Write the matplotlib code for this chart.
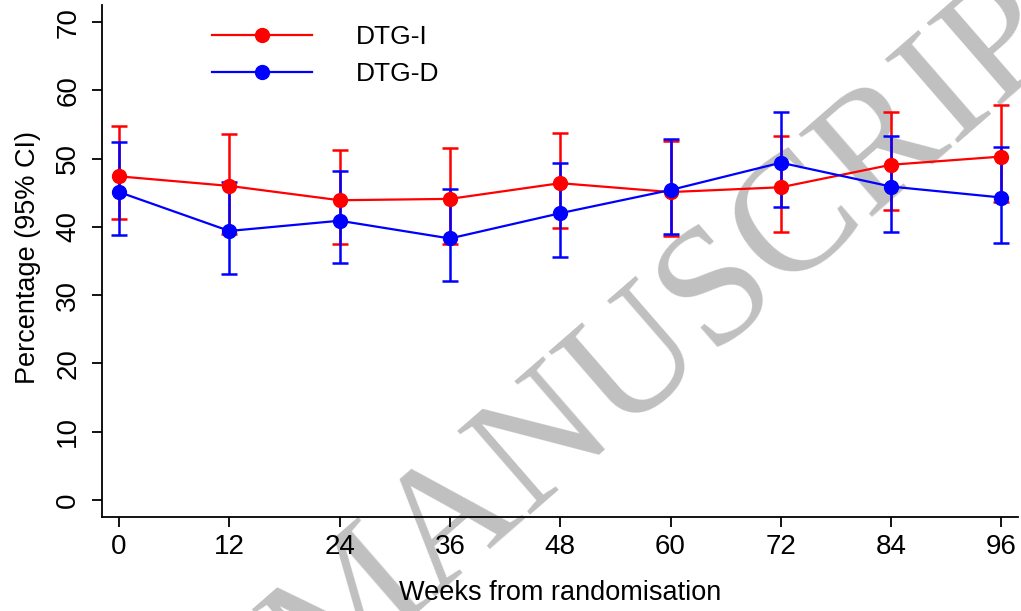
import numpy as np
import matplotlib
matplotlib.use("Agg")
import matplotlib.pyplot as plt

plt.rcParams['font.family'] = ['Liberation Sans', 'DejaVu Sans']

weeks = [0, 12, 24, 36, 48, 60, 72, 84, 96]

# DTG-I (red)
dtg_i = [47.4, 46.0, 43.9, 44.1, 46.4, 45.1, 45.8, 49.1, 50.3]
dtg_i_lo = [41.1, 39.0, 37.5, 37.5, 39.8, 38.7, 39.2, 42.5, 43.7]
dtg_i_hi = [54.8, 53.6, 51.3, 51.5, 53.8, 52.6, 53.3, 56.8, 57.8]

# DTG-D (blue)
dtg_d = [45.1, 39.4, 40.9, 38.3, 42.0, 45.4, 49.4, 45.9, 44.3]
dtg_d_lo = [38.8, 33.1, 34.7, 32.0, 35.6, 38.9, 42.9, 39.3, 37.6]
dtg_d_hi = [52.4, 46.6, 48.2, 45.5, 49.3, 52.8, 56.8, 53.3, 51.7]

W, H = 1021, 611
fig = plt.figure(figsize=(W / 100, H / 100), dpi=100)
ax = fig.add_axes([102 / W, 1 - 517 / H, 916 / W, 512 / H])

# watermark
ax.text(320 / W, -82 / H, "MANUSCRIPT", transform=fig.transFigure,
        rotation=41, rotation_mode='anchor', ha='left', va='baseline',
        fontsize=122, family='Liberation Serif', color='#c0c0c0',
        zorder=0.5, clip_on=False)

for y, lo, hi, col, lab in [(dtg_i, dtg_i_lo, dtg_i_hi, 'red', 'DTG-I'),
                            (dtg_d, dtg_d_lo, dtg_d_hi, 'blue', 'DTG-D')]:
    y = np.array(y)
    err = [y - np.array(lo), np.array(hi) - y]
    ax.errorbar(weeks, y, yerr=err, color=col, lw=1.6, marker='o',
                markersize=10, capsize=5.5, capthick=1.8, elinewidth=1.8,
                label=lab, zorder=3)

ax.set_xlim(-1.85, 97.8)
ax.set_ylim(-2.5, 72.5)
ax.set_xticks(weeks)
ax.set_yticks(range(0, 71, 10))
ax.tick_params(axis='both', length=7, width=1.3, labelsize=20, color='black')
ax.tick_params(axis='x', pad=5)
ax.tick_params(axis='y', pad=8)
for lbl in ax.get_yticklabels():
    lbl.set_rotation(90)
    lbl.set_va('center')

ax.spines['top'].set_visible(False)
ax.spines['right'].set_visible(False)
for s in ['left', 'bottom']:
    ax.spines[s].set_linewidth(1.3)

ax.set_xlabel("Weeks from randomisation", fontsize=19.5, va='center')
ax.set_ylabel("Percentage (95% CI)", fontsize=19.5, va='center')
ax.xaxis.set_label_coords(560 / W, 1 - 593 / H, transform=fig.transFigure)
ax.yaxis.set_label_coords(28 / W, 1 - 258 / H, transform=fig.transFigure)

handles, labels = ax.get_legend_handles_labels()
handles = [h[0] for h in handles]
leg = ax.legend(handles, labels, loc='upper left',
                bbox_to_anchor=(212 / W, 1 - 25 / H),
                bbox_transform=fig.transFigure, frameon=False,
                fontsize=19, handlelength=3.8, handletextpad=1.65,
                labelspacing=0.5, borderpad=0, borderaxespad=0)

fig.savefig("out.png", dpi=100)
